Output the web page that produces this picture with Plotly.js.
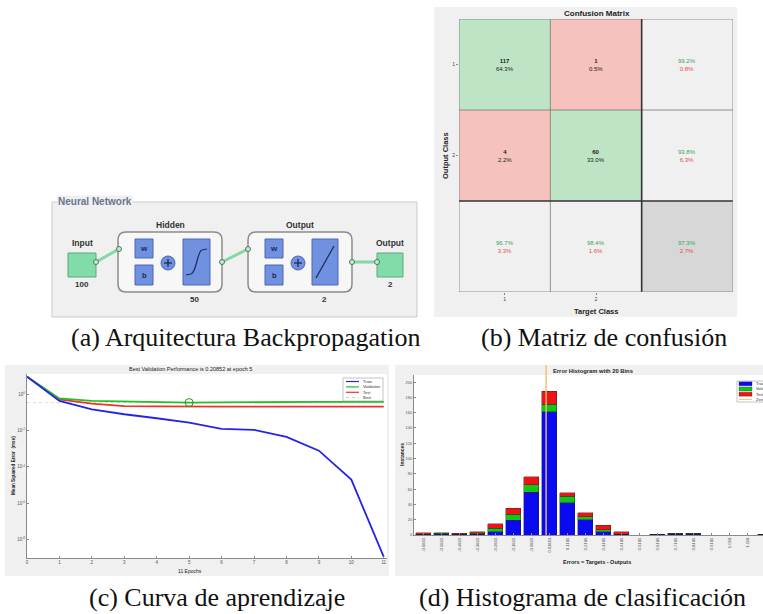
<!DOCTYPE html>
<html><head><meta charset="utf-8">
<script src="https://cdn.plot.ly/plotly-3.0.1.min.js"></script>
<style>html,body{margin:0;padding:0;background:#fff}#chart{width:763px;height:614px}</style>
</head><body><div id="chart"></div>
<script>
// ---------- DATA ----------
// (a) network architecture
const layerTitles = ['Input', 'Hidden', 'Output', 'Output'];
const layerSizes = [100, 50, 2, 2];
// (b) confusion matrix (rows = output class, cols = target class)
const classLabels = ['1', '2'];
const confusionRow1 = [117, 1];
const confusionRow2 = [4, 60];
// (c) learning curve
const epochs = [0, 1, 2, 3, 4, 5, 6, 7, 8, 9, 10, 11];
const trainMSE = [8.9, 0.417, 0.145, 0.0776, 0.0468, 0.0269, 0.0123, 0.0107, 0.00447, 0.000776, 0.00002, 1.15e-9];
const validationMSE = [8.9, 0.575, 0.417, 0.38, 0.347, 0.339, 0.347, 0.363, 0.371, 0.371, 0.371, 0.371];
const testMSE = [8.9, 0.513, 0.295, 0.219, 0.209, 0.2, 0.204, 0.204, 0.204, 0.204, 0.204, 0.204];
const bestEpoch = 5;
const perfTicks = [1, 1e-2, 1e-4, 1e-6, 1e-8];
const perfTickText = ['10<sup>0</sup>', '10<sup>-2</sup>', '10<sup>-4</sup>', '10<sup>-6</sup>', '10<sup>-8</sup>'];
// (d) error histogram
const binLabels = ['-0.6815', '-0.5815', '-0.4815', '-0.3815', '-0.2815', '-0.1815', '-0.0815', '0.01853', '0.1185', '0.2185',
  '0.3185', '0.4185', '0.5185', '0.6185', '0.7185', '0.8185', '0.9185', '1.018', '1.118', '1.218'];
const trainingCounts = [1, 1, 1, 1, 4, 19, 56, 161, 42, 20, 4, 1, 0, 1, 1, 1, 0, 0, 0, 1];
const validationCounts = [0, 1, 0, 1, 5, 8, 10, 10, 9, 4, 3, 0, 0, 0, 1, 1, 0, 0, 0, 0];
const testCounts = [2, 1, 1, 2, 6, 8, 10, 17, 4, 5, 6, 3, 0, 0, 0, 0, 0, 0, 0, 0];
const histTicks = [0, 20, 40, 60, 80, 100, 120, 140, 160, 180, 200];
const zeroErrorBin = 7.82;

// ---------- HELPERS ----------
const W = 763, H = 614;
const px = x => x / W, py = y => 1 - y / H;
const SANS = 'Liberation Sans, Arial, sans-serif';
const SERIF = 'Liberation Serif, Times New Roman, serif';
const shapes = [], ann = [];
function rect(x0, y0, x1, y1, fill, lc, lw, layer) {
  shapes.push({type: 'rect', xref: 'paper', yref: 'paper', x0: px(x0), x1: px(x1), y0: py(y1), y1: py(y0),
    fillcolor: fill, line: {color: lc || 'rgba(0,0,0,0)', width: lw || 0}, layer: layer || 'below'});
}
function seg(x0, y0, x1, y1, color, w, dash, layer) {
  shapes.push({type: 'line', xref: 'paper', yref: 'paper', x0: px(x0), x1: px(x1), y0: py(y0), y1: py(y1),
    line: {color: color, width: w, dash: dash || 'solid'}, layer: layer || 'above'});
}
function circ(cx, cy, r, fill, lc, lw) {
  shapes.push({type: 'circle', xref: 'paper', yref: 'paper', x0: px(cx - r), x1: px(cx + r), y0: py(cy + r), y1: py(cy - r),
    fillcolor: fill, line: {color: lc, width: lw}, layer: 'above'});
}
function pathP(pts, fill, lc, lw) {
  shapes.push({type: 'path', xref: 'paper', yref: 'paper', path: pts, fillcolor: fill, line: {color: lc, width: lw}, layer: 'above'});
}
function rrect(x0, y0, x1, y1, r, fill, lc, lw) {
  const P = (x, y) => px(x) + ',' + py(y);
  const p = 'M' + P(x0 + r, y0) + ' L' + P(x1 - r, y0) + ' Q' + P(x1, y0) + ' ' + P(x1, y0 + r) +
    ' L' + P(x1, y1 - r) + ' Q' + P(x1, y1) + ' ' + P(x1 - r, y1) + ' L' + P(x0 + r, y1) +
    ' Q' + P(x0, y1) + ' ' + P(x0, y1 - r) + ' L' + P(x0, y0 + r) + ' Q' + P(x0, y0) + ' ' + P(x0 + r, y0) + ' Z';
  pathP(p, fill, lc, lw);
}
function txt(x, y, t, size, color, opts) {
  ann.push(Object.assign({xref: 'paper', yref: 'paper', x: px(x), y: py(y), text: t, showarrow: false,
    font: {family: SANS, size: size, color: color}, xanchor: 'center', yanchor: 'middle'}, opts || {}));
}

// ---------- PANEL BACKGROUNDS ----------
rect(434, 7, 737, 317, '#f0f0f0');            // (b)
rect(5, 365, 389, 576, '#f0f0f0');            // (c)
rect(27, 374, 387, 558, '#ffffff');
rect(395, 365, 770, 576, '#f0f0f0');          // (d)
rect(414, 375, 770, 535, '#ffffff');

// ---------- (a) NEURAL NETWORK DIAGRAM ----------
rect(52, 202, 417, 317, '#f0f0f0', '#c9c9c9', 1);
txt(57, 202, '<b>Neural Network</b>', 10, '#68758f', {xanchor: 'left', bgcolor: '#f0f0f0', borderpad: 0});
const CONN = '#86d6a8', GREEN = '#82dcaa', GREEN_L = '#5aa97d';
const BLUE = '#7090e0', BLUE_L = '#4c66b4';
seg(96, 262, 119, 249, CONN, 3); seg(119, 249, 135, 249, CONN, 2.5);
seg(153, 249, 163, 258, CONN, 2.5); seg(153, 275, 163, 268, CONN, 2.5); seg(175, 263, 183, 263, CONN, 2.5);
seg(210, 262, 222, 262, CONN, 2.5); seg(222, 262, 248, 249, CONN, 3); seg(248, 249, 263, 249, CONN, 2.5);
seg(283, 249, 293, 258, CONN, 2.5); seg(283, 275, 293, 268, CONN, 2.5); seg(305, 263, 312, 263, CONN, 2.5);
seg(338, 262, 352, 262, CONN, 2.5); seg(352, 262, 377, 262, CONN, 3);
rect(68, 253, 96, 277, GREEN, GREEN_L, 1, 'above');
rect(377, 253, 403, 277, GREEN, GREEN_L, 1, 'above');
txt(82, 243, '<b>' + layerTitles[0] + '</b>', 8.5, '#333');
txt(82, 284, '<b>' + layerSizes[0] + '</b>', 8, '#333');
txt(390, 243, '<b>' + layerTitles[3] + '</b>', 8.5, '#333');
txt(390, 284, '<b>' + layerSizes[3] + '</b>', 8, '#333');
[[118, 222, 1], [248, 352, 2]].forEach(([x0, x1, li]) => {
  rrect(x0, 232, x1, 292, 8, '#f7f7f7', '#8c8c8c', 1.5);
  const wx0 = x0 + 17, wx1 = x0 + 35;
  const pc = x0 + 50;
  const tx0 = li === 1 ? x0 + 65 : x0 + 64, tx1 = li === 1 ? x0 + 92 : x0 + 90;
  rect(wx0, 239, wx1, 258, BLUE, BLUE_L, 1, 'above');
  rect(wx0, 265, wx1, 285, BLUE, BLUE_L, 1, 'above');
  txt((wx0 + wx1) / 2, 248.5, '<b>w</b>', 8, '#1c2a55');
  txt((wx0 + wx1) / 2, 275, '<b>b</b>', 7.5, '#1c2a55');
  circ(pc, 263, 7, BLUE, BLUE_L, 1);
  seg(pc - 4, 263, pc + 4, 263, '#1c2a55', 1.3); seg(pc, 259, pc, 267, '#1c2a55', 1.3);
  rect(tx0, 239, tx1, 285, BLUE, BLUE_L, 1, 'above');
  if (li === 1) {
    const P = (x, y) => px(x) + ',' + py(y);
    pathP('M' + P(186, 275) + ' L' + P(191, 274) + ' C' + P(197, 272) + ' ' + P(197, 251) + ' ' + P(202, 250) + ' L' + P(207, 249),
      'rgba(0,0,0,0)', '#1c2a55', 1.2);
  } else {
    seg(316, 278, 334, 246, '#1c2a55', 1.2);
  }
  txt((x0 + x1) / 2, 225, '<b>' + layerTitles[li] + '</b>', 8.5, '#333');
  txt(x1 - 28, 299, '<b>' + layerSizes[li] + '</b>', 8, '#333');
});
[[96, 262], [119, 249], [222, 262], [248, 249], [352, 262], [377, 262]].forEach(([x, y]) =>
  circ(x, y, 2.5, '#bfeccf', '#3c5a48', 0.8));

// ---------- (b) CONFUSION MATRIX ----------
const conf = [confusionRow1, confusionRow2];
const total = conf.flat().reduce((a, b) => a + b, 0);
const nC = classLabels.length;
const zCodes = [];
const f1 = v => (v * 100).toFixed(1) + '%';
const GTXT = '#3aa35a', RTXT = '#e0504a';
const pair = (ok) => '<span style="color:' + GTXT + '">' + f1(ok) + '</span><br><span style="color:' + RTXT + '">' + f1(1 - ok) + '</span>';
for (let i = 0; i <= nC; i++) {
  const row = [];
  for (let j = 0; j <= nC; j++) {
    let t;
    if (i < nC && j < nC) {
      row.push(i === j ? 0 : 1);
      t = '<b>' + conf[i][j] + '</b><br>' + f1(conf[i][j] / total);
    } else if (i < nC) {
      row.push(2);
      const rs = conf[i].reduce((a, b) => a + b, 0);
      t = pair(conf[i][i] / rs);
    } else if (j < nC) {
      row.push(2);
      const cs = conf.reduce((a, r) => a + r[j], 0);
      t = pair(conf[j][j] / cs);
    } else {
      row.push(3);
      let d = 0; for (let k = 0; k < nC; k++) d += conf[k][k];
      t = pair(d / total);
    }
    ann.push({xref: 'x', yref: 'y', x: j, y: i, showarrow: false, text: t, xanchor: 'center', yanchor: 'middle',
      font: {family: SANS, size: 6, color: '#222'}});
  }
  zCodes.push(row);
}
const idx = [...Array(nC + 1).keys()];
[-0.5, 0.5, 1.5, 2.5].forEach(v => {
  const thick = v === 1.5;
  shapes.push({type: 'line', xref: 'x', yref: 'y', x0: v, x1: v, y0: -0.5, y1: 2.5, line: {color: thick ? '#333' : '#777', width: thick ? 1.6 : 0.8}, layer: 'above'});
  shapes.push({type: 'line', xref: 'x', yref: 'y', y0: v, y1: v, x0: -0.5, x1: 2.5, line: {color: thick ? '#333' : '#777', width: thick ? 1.6 : 0.8}, layer: 'above'});
});
txt(597, 13, '<b>Confusion Matrix</b>', 8, '#222');
txt(596, 311, '<b>Target Class</b>', 7.5, '#222');
txt(445, 155, '<b>Output Class</b>', 7.5, '#222', {textangle: -90});

// ---------- (c) LEARNING CURVE ----------
const bestVal = validationMSE[bestEpoch];
txt(190, 369, 'Best Validation Performance is 0.20852 at epoch ' + bestEpoch, 5.5, '#222');
txt(190, 571, '11 Epochs', 5, '#222');
txt(13, 466, '<b>Mean Squared Error  (mse)</b>', 4.6, '#222', {textangle: -90});
const perfSeries = [
  {name: 'Train', y: trainMSE, color: '#2424e6'},
  {name: 'Validation', y: validationMSE, color: '#22c022'},
  {name: 'Test', y: testMSE, color: '#ee3030'}];
rect(343, 378, 383, 401, '#ffffff', '#9a9a9a', 0.6, 'above');
perfSeries.forEach((s, k) => {
  const yy = 381.5 + k * 5.4;
  seg(346, yy, 359, yy, s.color, 1.2);
  txt(361, yy, s.name, 4, '#333', {xanchor: 'left'});
});
seg(346, 397.7, 359, 397.7, '#9ad89a', 0.8, 'dot');
txt(361, 397.7, 'Best', 4, '#333', {xanchor: 'left'});

// ---------- (d) ERROR HISTOGRAM ----------
txt(593, 371, '<b>Error Histogram with 20 Bins</b>', 5.8, '#222');
txt(597, 562, '<b>Errors = Targets - Outputs</b>', 5.5, '#222');
txt(402, 455, '<b>Instances</b>', 5, '#222', {textangle: -90});
const binX = binLabels.map((_, i) => i + 1);
const histSeries = [
  {name: 'Training', y: trainingCounts, color: '#0a0af0'},
  {name: 'Validation', y: validationCounts, color: '#16c416'},
  {name: 'Test', y: testCounts, color: '#ec1414'}];
rect(737, 381, 775, 402, '#ffffff', '#9a9a9a', 0.6, 'above');
histSeries.forEach((s, k) => {
  const yy = 383.8 + k * 5.2;
  rect(739, yy - 2, 752, yy + 2, s.color, '#222', 0.3, 'above');
  txt(754, yy, s.name, 4, '#333', {xanchor: 'left'});
});
seg(739, 399.4, 752, 399.4, '#f3b35a', 0.8);
txt(754, 399.4, 'Zero Error', 4, '#333', {xanchor: 'left'});
shapes.push({type: 'line', xref: 'x3', yref: 'paper', x0: zeroErrorBin, x1: zeroErrorBin, y0: py(535), y1: py(365),
  line: {color: '#f4bd6a', width: 1.4}, layer: 'above'});

// ---------- CAPTIONS ----------
const capFont = {family: SERIF, size: 26, color: '#111'};
[[245, 337, '(a) Arquitectura Backpropagation'], [604, 337, '(b) Matriz de confusión'],
 [217, 597, '(c) Curva de aprendizaje'], [582, 597, '(d) Histograma de clasificación']].forEach(([x, y, t]) =>
  ann.push({xref: 'paper', yref: 'paper', x: px(x), y: py(y), text: t, showarrow: false, font: capFont, xanchor: 'center', yanchor: 'middle'}));

// ---------- TRACES ----------
const traces = [];
traces.push({type: 'heatmap', x: idx, y: idx, z: zCodes, xaxis: 'x', yaxis: 'y', zmin: 0, zmax: 3, showscale: false, hoverinfo: 'skip',
  colorscale: [[0, '#bde5c5'], [0.25, '#bde5c5'], [0.25, '#f5c2bd'], [0.5, '#f5c2bd'], [0.5, '#f0f0f0'], [0.75, '#f0f0f0'], [0.75, '#d7d7d7'], [1, '#d7d7d7']]});
traces.push({type: 'scatter', mode: 'lines', x: [epochs[0], epochs[epochs.length - 1] + 0.1], y: [bestVal, bestVal], xaxis: 'x2', yaxis: 'y2',
  line: {color: '#b8e6b8', width: 0.8, dash: 'dot'}});
perfSeries.slice().reverse().forEach(s => traces.push({type: 'scatter', mode: 'lines', name: s.name, x: epochs, y: s.y,
  xaxis: 'x2', yaxis: 'y2', line: {color: s.color, width: 1.8}}));
traces.push({type: 'scatter', mode: 'markers', x: [bestEpoch], y: [bestVal], xaxis: 'x2', yaxis: 'y2',
  marker: {symbol: 'circle-open', size: 8, color: '#1f9a1f', line: {width: 1}}});
histSeries.forEach(s => traces.push({type: 'bar', name: s.name, x: binX, y: s.y, xaxis: 'x3', yaxis: 'y3', width: 0.83,
  marker: {color: s.color, line: {color: '#202020', width: 0.4}}}));

const tickF = {family: SANS, size: 4.5, color: '#555'};
const layout = {
  width: W, height: H, margin: {l: 0, r: 0, t: 0, b: 0}, paper_bgcolor: '#ffffff', plot_bgcolor: 'rgba(0,0,0,0)',
  showlegend: false, barmode: 'stack', bargap: 0,
  xaxis: {domain: [px(459), px(733)], range: [-0.5, 2.5], anchor: 'y', tickvals: [0, 1], ticktext: classLabels,
    ticks: 'outside', ticklen: 2, tickcolor: '#888', tickfont: {family: SANS, size: 5, color: '#444'}, showgrid: false, zeroline: false, showline: false},
  yaxis: {domain: [py(292), py(19)], range: [2.5, -0.5], anchor: 'x', tickvals: [0, 1], ticktext: classLabels,
    ticks: 'outside', ticklen: 2, tickcolor: '#888', tickfont: {family: SANS, size: 5, color: '#444'}, showgrid: false, zeroline: false, showline: false},
  xaxis2: {domain: [px(27), px(387)], range: [0, 11.1], anchor: 'y2', tickvals: epochs, ticks: 'inside', ticklen: 2,
    tickcolor: '#888', tickfont: tickF, showgrid: false, zeroline: false, showline: true, linecolor: '#8a8a8a', linewidth: 1},
  yaxis2: {domain: [py(558), py(374)], type: 'log', range: [-9, 1.1], anchor: 'x2', tickvals: perfTicks, ticktext: perfTickText,
    ticks: 'inside', ticklen: 2, tickcolor: '#888', tickfont: tickF, showgrid: false, zeroline: false, showline: true, linecolor: '#8a8a8a', linewidth: 1},
  xaxis3: {domain: [px(414), 1], range: [0.48, 19.87], anchor: 'y3', tickvals: binX, ticktext: binLabels, tickangle: -90,
    ticks: 'inside', ticklen: 2, tickcolor: '#888', tickfont: {family: SANS, size: 4.2, color: '#555'}, showgrid: false, zeroline: false,
    showline: true, linecolor: '#8a8a8a', linewidth: 1},
  yaxis3: {domain: [py(535), py(375)], range: [0, 209.3], anchor: 'x3', tickvals: histTicks, ticks: 'inside', ticklen: 2,
    tickcolor: '#888', tickfont: {family: SANS, size: 4, color: '#555'}, showgrid: false, zeroline: false, showline: true, linecolor: '#8a8a8a', linewidth: 1},
  shapes: shapes, annotations: ann
};
Plotly.newPlot('chart', traces, layout, {displayModeBar: false, staticPlot: true});
</script></body></html>
